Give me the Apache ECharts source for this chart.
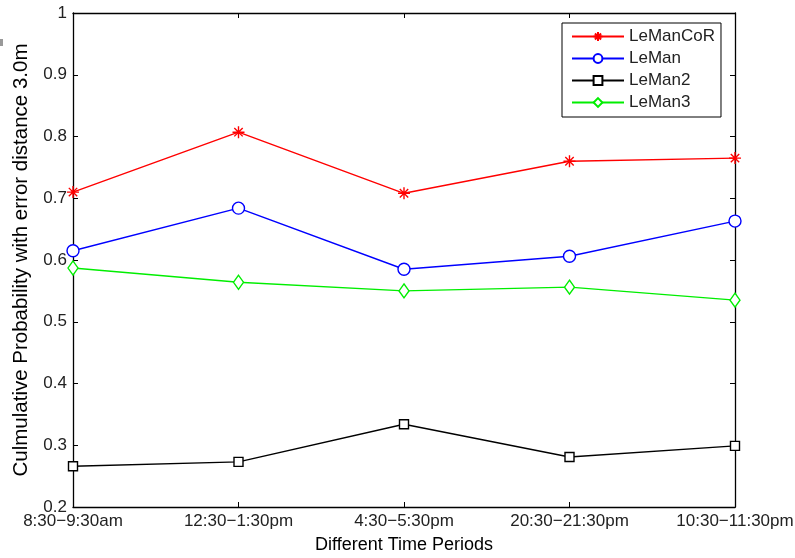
<!DOCTYPE html>
<html>
<head>
<meta charset="utf-8">
<script src="https://cdn.jsdelivr.net/npm/echarts@6/dist/echarts.min.js"></script>
<style>
html, body { margin: 0; padding: 0; background: #fff; }
#chart { width: 795px; height: 558px; }
</style>
</head>
<body>
<div id="chart"></div>
<script>
var periods = ['8:30\u22129:30am', '12:30\u22121:30pm', '4:30\u22125:30pm', '20:30\u221221:30pm', '10:30\u221211:30pm'];
var lemanCoR = [0.710, 0.807, 0.708, 0.760, 0.765];
var leman = [0.615, 0.684, 0.585, 0.606, 0.663];
var leman2 = [0.266, 0.273, 0.334, 0.281, 0.299];
var leman3 = [0.587, 0.564, 0.550, 0.556, 0.535];

var font = 'Liberation Sans, Arial, Helvetica, sans-serif';
var star = 'path://M0,5L10,5M5,0L5,10M1.5,1.5L8.5,8.5M1.5,8.5L8.5,1.5';

var chart = echarts.init(document.getElementById('chart'));

function mkSeries(name, data, color, symbol, size) {
    return {
        name: name,
        type: 'line',
        data: data,
        symbol: symbol,
        symbolSize: size,
        showAllSymbol: true,
        lineStyle: { color: color, width: 1.4 },
        itemStyle: { color: symbol === star ? 'none' : '#fff', borderColor: color, borderWidth: 1.4 },
        emphasis: { disabled: true },
        animation: false
    };
}

var option = {
    animation: false,
    graphic: [{ type: 'rect', left: 0, top: 39, shape: { width: 3, height: 7 }, style: { fill: '#999' } }],
    grid: { left: 73, right: 60, top: 13, bottom: 51, outerBoundsMode: 'none' },
    legend: {
        orient: 'vertical',
        left: 562,
        top: 23,
        padding: [5, 6, 6, 9],
        itemGap: 5,
        itemWidth: 52,
        itemHeight: 11,
        backgroundColor: '#fff',
        borderColor: '#000',
        borderWidth: 1,
        textStyle: { fontFamily: font, fontSize: 17, color: '#222' },
        data: ['LeManCoR', 'LeMan', 'LeMan2', 'LeMan3']
    },
    xAxis: [{
        type: 'category',
        data: periods,
        boundaryGap: false,
        name: 'Different Time Periods',
        nameLocation: 'middle',
        nameGap: 29,
        nameTextStyle: { fontFamily: font, fontSize: 18, color: '#000' },
        axisLine: { lineStyle: { color: '#000', width: 1.3 } },
        axisTick: { inside: true, length: 5, lineStyle: { color: '#000' } },
        axisLabel: { fontFamily: font, fontSize: 17, color: '#222', margin: 6, interval: 0 },
        splitLine: { show: false }
    }, {
        type: 'category',
        data: periods,
        position: 'top',
        boundaryGap: false,
        axisLine: { lineStyle: { color: '#000', width: 1.3 } },
        axisTick: { inside: true, length: 5, lineStyle: { color: '#000' } },
        axisLabel: { show: false },
        splitLine: { show: false }
    }],
    yAxis: [{
        type: 'value',
        min: 0.2,
        max: 1,
        interval: 0.1,
        name: 'Culmulative Probability with error distance 3.0m',
        nameLocation: 'middle',
        nameGap: 41,
        nameTextStyle: { fontFamily: font, fontSize: 20.5, color: '#000' },
        axisLine: { show: true, lineStyle: { color: '#000', width: 1.3 } },
        axisTick: { show: true, inside: true, length: 5, lineStyle: { color: '#000' } },
        axisLabel: { fontFamily: font, fontSize: 17, color: '#222', margin: 6 },
        splitLine: { show: false }
    }, {
        type: 'value',
        min: 0.2,
        max: 1,
        interval: 0.1,
        position: 'right',
        axisLine: { show: true, lineStyle: { color: '#000', width: 1.3 } },
        axisTick: { show: true, inside: true, length: 5, lineStyle: { color: '#000' } },
        axisLabel: { show: false },
        splitLine: { show: false }
    }],
    series: [
        mkSeries('LeManCoR', lemanCoR, '#ff0000', star, 12),
        mkSeries('LeMan', leman, '#0000ff', 'circle', 12),
        mkSeries('LeMan2', leman2, '#000000', 'rect', 9),
        mkSeries('LeMan3', leman3, '#00ee00', 'diamond', [10, 14])
    ]
};
chart.setOption(option);
</script>
</body>
</html>
